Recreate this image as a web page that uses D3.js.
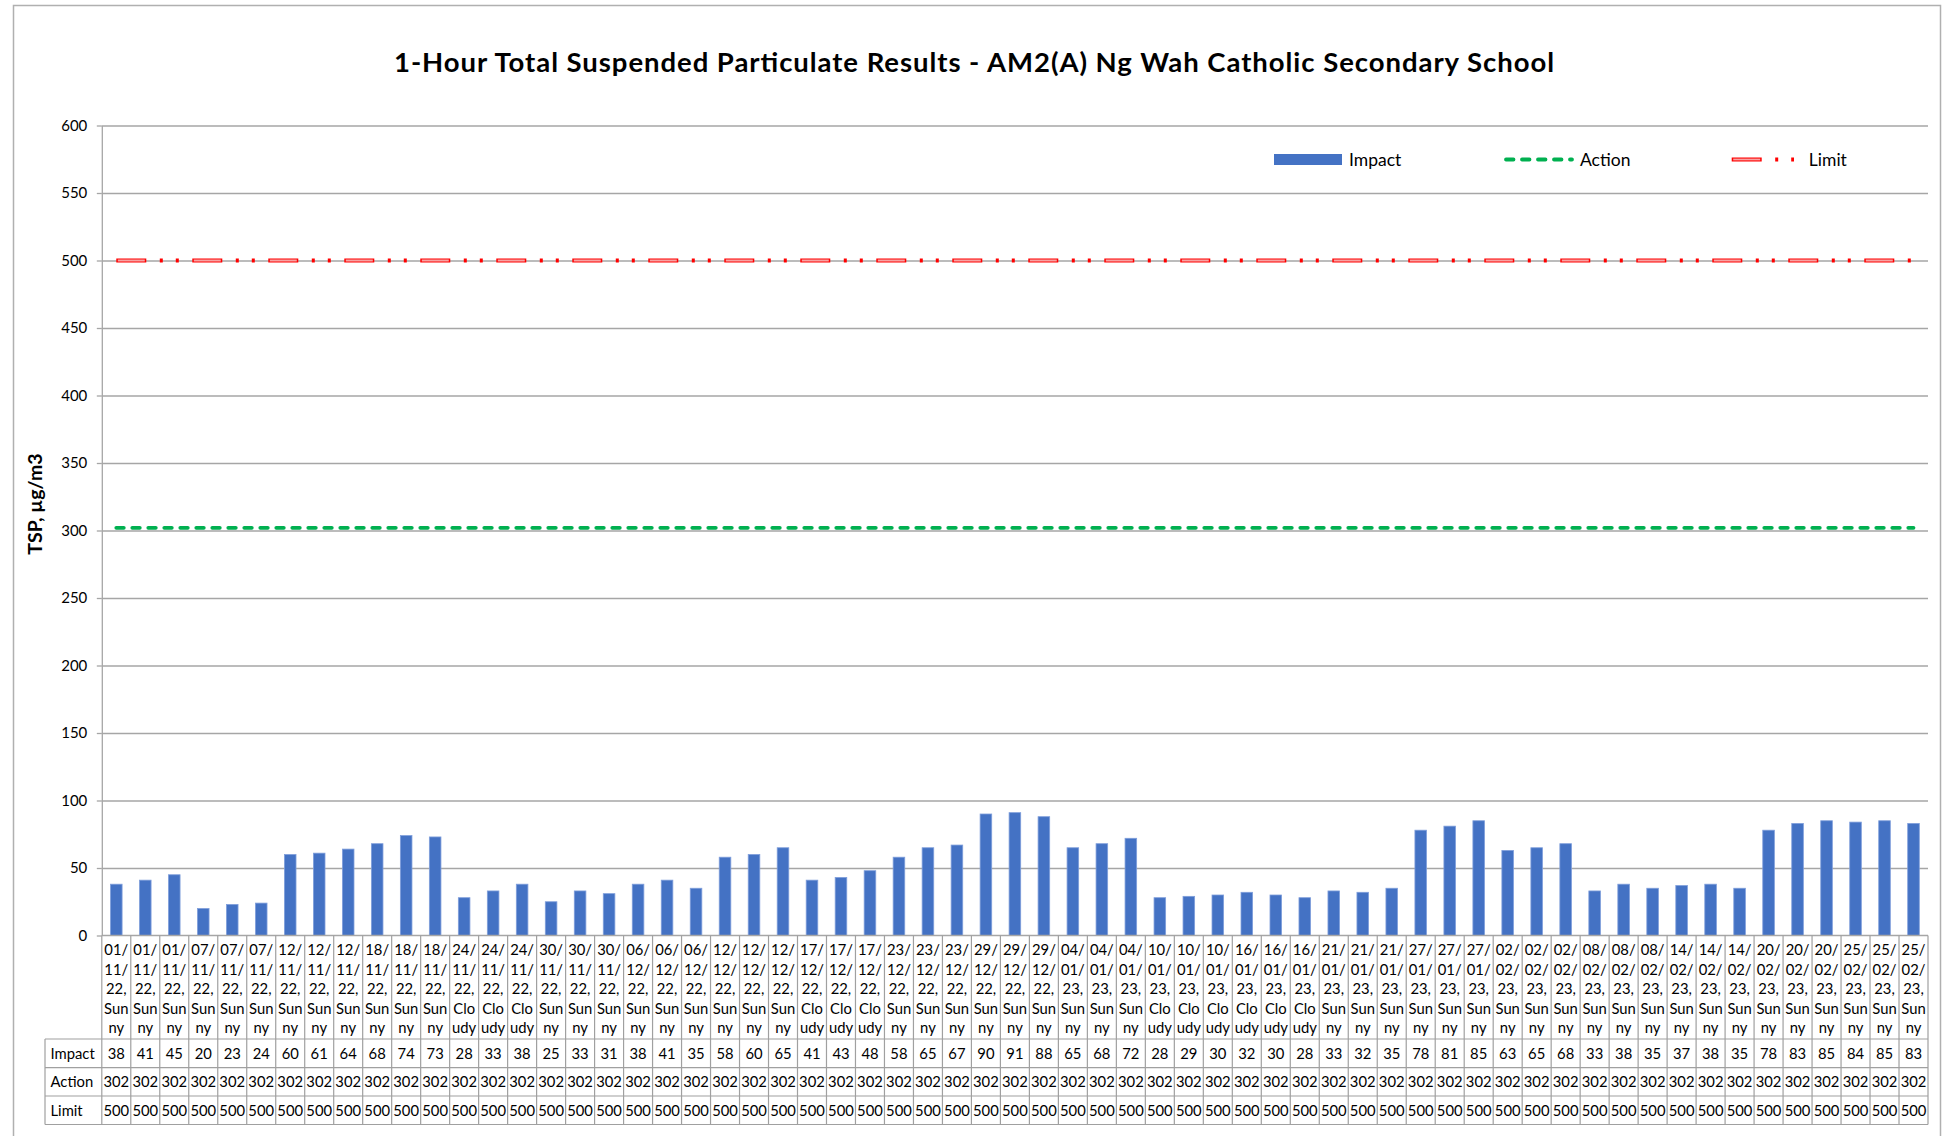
<!DOCTYPE html>
<html>
<head>
<meta charset="utf-8">
<script src="https://cdn.jsdelivr.net/npm/d3@7"></script>
<style>
  body { margin: 0; background: #fff; }
  svg { display: block; }
  text { font-family: Lato, "Liberation Sans", sans-serif; fill: #000; }
</style>
</head>
<body>
<svg id="chart"></svg>
<script>
const width = 1948;
const height = 1136;

// sampling days, three 1-hour samples each
const days = [
  "01/11/22", "07/11/22", "12/11/22", "18/11/22", "24/11/22", "30/11/22", "06/12/22",
  "12/12/22", "17/12/22", "23/12/22", "29/12/22", "04/01/23", "10/01/23", "16/01/23",
  "21/01/23", "27/01/23", "02/02/23", "08/02/23", "14/02/23", "20/02/23", "25/02/23",
];
const weather = [
  "Sunny", "Sunny", "Sunny", "Sunny", "Cloudy", "Sunny", "Sunny",
  "Sunny", "Cloudy", "Sunny", "Sunny", "Sunny", "Cloudy", "Cloudy",
  "Sunny", "Sunny", "Sunny", "Sunny", "Sunny", "Sunny", "Sunny",
];
const impact = [
  38, 41, 45, 20, 23, 24, 60, 61, 64, 68, 74, 73, 28, 33, 38, 25, 33, 31, 38, 41, 35,
  58, 60, 65, 41, 43, 48, 58, 65, 67, 90, 91, 88, 65, 68, 72, 28, 29, 30, 32, 30, 28,
  33, 32, 35, 78, 81, 85, 63, 65, 68, 33, 38, 35, 37, 38, 35, 78, 83, 85, 84, 85, 83,
];
const actionLevel = 302;
const limitLevel = 500;
const yTicks = [0, 50, 100, 150, 200, 250, 300, 350, 400, 450, 500, 550, 600];

const title = "1-Hour Total Suspended Particulate Results - AM2(A) Ng Wah Catholic Secondary School";
const yTitle = "TSP, µg/m3";

const blue = "#4472C4";
const green = "#00B050";
const red = "#FF0000";
const gridColor = "#a6a6a6";
const tableColor = "#a0a0a0";

const categories = impact.map((v, i) => {
  const d = Math.floor(i / 3);
  return { i, value: v, date: days[d], weather: weather[d] };
});

const plot = { left: 101.8, right: 1928, top: 125.5, bottom: 935.5 };
const rowLines = [1039, 1067.7, 1096, 1124.5];
const headerLeft = 45;

const svg = d3.select("#chart").attr("width", width).attr("height", height);

svg.append("rect")
  .attr("x", 13.5).attr("y", 5.5)
  .attr("width", 1927).attr("height", 1132)
  .attr("fill", "#fff")
  .attr("stroke", "#b0b0b0")
  .attr("stroke-width", 1.5);

const xCell = d3.scaleBand()
  .domain(categories.map((d) => d.i))
  .range([plot.left, plot.right]);

const x = d3.scaleBand()
  .domain(categories.map((d) => d.i))
  .range([plot.left, plot.right])
  .paddingInner(0.6)
  .paddingOuter(0.3);

const y = d3.scaleLinear().domain([0, 600]).range([plot.bottom, plot.top]);

// title
svg.append("text")
  .attr("x", width / 2)
  .attr("y", 71.5)
  .attr("text-anchor", "middle")
  .attr("font-weight", "bold")
  .attr("font-size", 27.5)
  .attr("textLength", 1160)
  .attr("lengthAdjust", "spacing")
  .text(title);

// gridlines
svg.append("g")
  .attr("transform", `translate(${plot.left},0)`)
  .call(d3.axisLeft(y).tickValues(yTicks.slice(1)).tickSize(-(plot.right - plot.left)).tickFormat(""))
  .call((g) => g.select(".domain").remove())
  .call((g) => g.selectAll(".tick line").attr("stroke", gridColor).attr("stroke-width", 1.3));

// y axis with labels
svg.append("g")
  .attr("transform", `translate(${plot.left},0)`)
  .call(d3.axisLeft(y).tickValues(yTicks).tickSize(5).tickPadding(9.5).tickSizeOuter(0))
  .call((g) => g.select(".domain").attr("stroke", gridColor).attr("stroke-width", 1.3))
  .call((g) => g.selectAll(".tick line").attr("stroke", gridColor).attr("stroke-width", 1.3))
  .call((g) => g.selectAll(".tick text")
    .attr("font-size", 15)
    .attr("fill", "#000")
    .style("font-family", "Lato, 'Liberation Sans', sans-serif"));

svg.append("text")
  .attr("transform", "translate(42,504) rotate(-90)")
  .attr("text-anchor", "middle")
  .attr("font-weight", "bold")
  .attr("font-size", 19.5)
  .text(yTitle);

// bars
svg.append("g")
  .selectAll("rect")
  .data(categories)
  .join("rect")
  .attr("x", (d) => x(d.i))
  .attr("width", x.bandwidth())
  .attr("y", (d) => y(d.value))
  .attr("height", (d) => y(0) - y(d.value))
  .attr("fill", blue)
  .attr("stroke", "#7f9edb")
  .attr("stroke-width", 0.8);

// x axis line
svg.append("line")
  .attr("x1", plot.left).attr("x2", plot.right)
  .attr("y1", y(0)).attr("y2", y(0))
  .attr("stroke", gridColor).attr("stroke-width", 1.3);

const center = (i) => xCell(i) + xCell.bandwidth() / 2;

// action line
const levelLine = (level) => d3.line()
  .x((d) => center(d.i))
  .y(() => y(level));

const actionPattern = "7.5 8.5";
svg.append("path")
  .datum(categories)
  .attr("d", levelLine(actionLevel))
  .attr("fill", "none")
  .attr("stroke", green)
  .attr("stroke-width", 3.8)
  .attr("stroke-linecap", "round")
  .attr("stroke-dasharray", actionPattern);

// limit line: outlined long dash, dot, dot
const limitPattern = "30 13.5 3 13 3 13.5";
const limitInner = "27 49";
function drawLimit(sel, path) {
  sel.append("path")
    .attr("d", path)
    .attr("fill", "none")
    .attr("stroke", red)
    .attr("stroke-width", 4.2)
    .attr("stroke-dasharray", limitPattern);
  sel.append("path")
    .attr("d", path)
    .attr("fill", "none")
    .attr("stroke", "#f7a3a3")
    .attr("stroke-width", 1.8)
    .attr("stroke-dasharray", limitInner)
    .attr("stroke-dashoffset", -1.5);
}
drawLimit(svg.append("g"), levelLine(limitLevel)(categories));

// legend
const legend = svg.append("g").attr("font-size", 17.5);
const ly = 159.5;
legend.append("rect")
  .attr("x", 1274).attr("y", ly - 5.5)
  .attr("width", 68).attr("height", 11)
  .attr("fill", blue);
legend.append("text").attr("x", 1349).attr("y", ly).attr("dy", "0.36em").text("Impact");

legend.append("line")
  .attr("x1", 1506).attr("x2", 1572)
  .attr("y1", ly).attr("y2", ly)
  .attr("stroke", green)
  .attr("stroke-width", 3.8)
  .attr("stroke-linecap", "round")
  .attr("stroke-dasharray", actionPattern);
legend.append("text").attr("x", 1580).attr("y", ly).attr("dy", "0.36em").text("Action");

drawLimit(legend.append("g"), `M1731.7,${ly}H1794`);
legend.append("text").attr("x", 1808.8).attr("y", ly).attr("dy", "0.36em").text("Limit");

// data table
const table = svg.append("g").attr("font-size", 14.8);

table.selectAll(".hline")
  .data(rowLines)
  .join("line")
  .attr("x1", headerLeft).attr("x2", plot.right)
  .attr("y1", (d) => d).attr("y2", (d) => d)
  .attr("stroke", tableColor).attr("stroke-width", 1.2);

const boundaries = categories.map((d) => xCell(d.i)).concat([plot.right]);
table.selectAll(".vline")
  .data(boundaries)
  .join("line")
  .attr("x1", (d) => d).attr("x2", (d) => d)
  .attr("y1", y(0)).attr("y2", rowLines[3])
  .attr("stroke", tableColor).attr("stroke-width", 1.2);

table.append("line")
  .attr("x1", headerLeft).attr("x2", headerLeft)
  .attr("y1", rowLines[0]).attr("y2", rowLines[3])
  .attr("stroke", tableColor).attr("stroke-width", 1.2);

function wrapLabel(d) {
  const parts = d.date.split("/");
  return [
    parts[0] + "/",
    parts[1] + "/",
    parts[2] + ",",
    d.weather.slice(0, 3),
    d.weather.slice(3),
  ];
}

const labelLines = [950, 969.4, 988.8, 1008.2, 1027.6];
table.selectAll(".cat")
  .data(categories)
  .join("text")
  .attr("text-anchor", "middle")
  .attr("transform", (d) => `translate(${center(d.i)},0)`)
  .selectAll("tspan")
  .data(wrapLabel)
  .join("tspan")
  .attr("x", 0)
  .attr("y", (d, k) => labelLines[k])
  .attr("dy", "0.36em")
  .text((d) => d);

const rows = [
  { name: "Impact", values: categories.map((d) => d.value) },
  { name: "Action", values: categories.map(() => actionLevel) },
  { name: "Limit", values: categories.map(() => limitLevel) },
];

rows.forEach((row, r) => {
  const cy = (rowLines[r] + rowLines[r + 1]) / 2;
  table.append("text")
    .attr("x", 50.5).attr("y", cy).attr("dy", "0.36em")
    .text(row.name);
  table.append("g")
    .selectAll("text")
    .data(row.values)
    .join("text")
    .attr("x", (v, i) => center(i))
    .attr("y", cy)
    .attr("dy", "0.36em")
    .attr("text-anchor", "middle")
    .text((v) => v);
});
</script>
</body>
</html>
